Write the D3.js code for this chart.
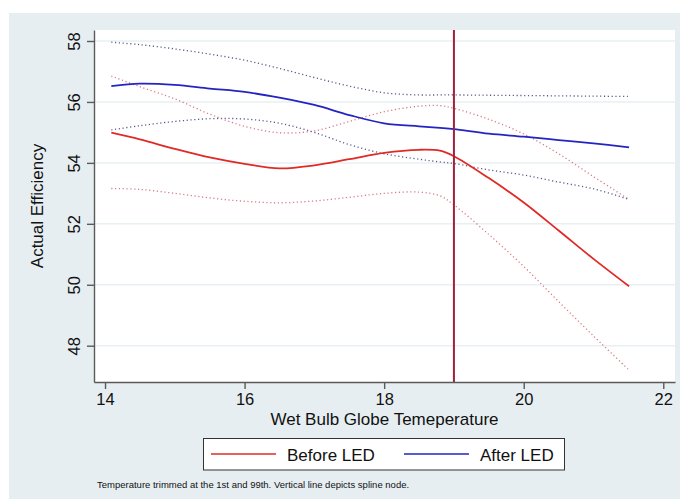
<!DOCTYPE html>
<html>

<head>
    <meta charset="utf-8">
    <script src="https://d3js.org/d3.v7.min.js"></script>
    <style>
        body { margin: 0; background: #fff; }
        text { font-family: "Liberation Sans", Arial, Helvetica, sans-serif; fill: #111; }
    </style>
</head>

<body>
    <script>
        // values
        let temps = [14.09, 14.5, 15, 15.5, 16, 16.5, 17, 17.5, 18, 18.5, 18.8, 19, 19.5, 20, 20.5, 21, 21.51];
        let beforeFit = [54.99, 54.77, 54.46, 54.18, 53.97, 53.82, 53.92, 54.12, 54.33, 54.43, 54.4, 54.22, 53.5, 52.7, 51.78, 50.85, 49.95];
        let beforeHi = [56.85, 56.5, 56.1, 55.6, 55.2, 54.99, 55.05, 55.36, 55.68, 55.86, 55.88, 55.79, 55.43, 54.95, 54.3, 53.55, 52.8];
        let beforeLo = [53.16, 53.13, 53.0, 52.85, 52.74, 52.69, 52.75, 52.87, 53.0, 53.04, 52.92, 52.62, 51.65, 50.6, 49.45, 48.32, 47.2];
        let afterFit = [56.52, 56.6, 56.56, 56.44, 56.33, 56.14, 55.9, 55.57, 55.3, 55.2, 55.15, 55.11, 54.96, 54.86, 54.75, 54.64, 54.51];
        let afterHi = [57.96, 57.88, 57.74, 57.57, 57.37, 57.1, 56.8, 56.52, 56.3, 56.23, 56.23, 56.23, 56.22, 56.21, 56.2, 56.19, 56.18];
        let afterLo = [55.08, 55.22, 55.36, 55.45, 55.44, 55.3, 55.0, 54.6, 54.3, 54.12, 54.03, 53.98, 53.77, 53.6, 53.37, 53.15, 52.8];
        let xTicks = [14, 16, 18, 20, 22];
        let yTicks = [48, 50, 52, 54, 56, 58];
        let splineNode = 19;
        let legendLabels = ["Before LED", "After LED"];
        let noteText = "Temperature trimmed at the 1st and 99th. Vertical line depicts spline node.";

        let width = 680;
        let height = 499;
        let plot = { left: 94, right: 675, top: 30, bottom: 382 };

        let red = "#e02a26";
        let blue = "#2424c2";

        let svg = d3.select("body").append("svg")
            .attr("width", width)
            .attr("height", height);

        // outer stata-ish background
        svg.append("rect")
            .attr("x", 9).attr("y", 13)
            .attr("width", width - 9).attr("height", height - 13)
            .attr("fill", "#e7eef1");

        svg.append("rect")
            .attr("x", plot.left).attr("y", plot.top)
            .attr("width", plot.right - plot.left).attr("height", plot.bottom - plot.top)
            .attr("fill", "#fff");

        let x = d3.scaleLinear().domain([13.842, 22.168]).range([plot.left, plot.right]);
        let y = d3.scaleLinear().domain([46.809, 58.361]).range([plot.bottom, plot.top]);

        // grid lines
        svg.append("g").selectAll("line")
            .data(yTicks)
            .join("line")
            .attr("x1", plot.left).attr("x2", plot.right)
            .attr("y1", d => y(d)).attr("y2", d => y(d))
            .attr("stroke", "#e9f0f3")
            .attr("stroke-width", 1.5);

        let line = d3.line()
            .x((d, i) => x(temps[i]))
            .y(d => y(d))
            .curve(d3.curveCatmullRom.alpha(0.5));

        let dotted = [
            { v: afterHi, c: "#3c3c78" },
            { v: afterLo, c: "#3c3c78" },
            { v: beforeHi, c: "#cf6470" },
            { v: beforeLo, c: "#cf6470" }
        ];
        svg.append("g").selectAll("path")
            .data(dotted)
            .join("path")
            .attr("d", d => line(d.v))
            .attr("fill", "none")
            .attr("stroke", d => d.c)
            .attr("stroke-width", 1.3)
            .attr("stroke-dasharray", "1.2,2.6")
            .attr("opacity", 0.85);

        svg.append("path")
            .attr("d", line(afterFit))
            .attr("fill", "none")
            .attr("stroke", blue)
            .attr("stroke-width", 1.8);

        svg.append("path")
            .attr("d", line(beforeFit))
            .attr("fill", "none")
            .attr("stroke", red)
            .attr("stroke-width", 1.8);

        // spline node
        svg.append("line")
            .attr("x1", x(splineNode)).attr("x2", x(splineNode))
            .attr("y1", plot.top).attr("y2", plot.bottom)
            .attr("stroke", "#a2203e")
            .attr("stroke-width", 2);

        // axes
        let yAxis = svg.append("g")
            .attr("transform", `translate(${plot.left},0)`)
            .call(d3.axisLeft(y).tickValues(yTicks).tickSize(7).tickSizeOuter(0));
        yAxis.selectAll("text")
            .attr("transform", "rotate(-90)")
            .attr("x", 0)
            .attr("y", -14)
            .attr("dy", 0)
            .style("text-anchor", "middle")
            .style("font-size", "16.5px");

        let xAxis = svg.append("g")
            .attr("transform", `translate(0,${plot.bottom})`)
            .call(d3.axisBottom(x).tickValues(xTicks).tickSize(7).tickSizeOuter(0));
        xAxis.selectAll("text")
            .attr("y", 23)
            .attr("dy", 0)
            .style("font-size", "16.5px");

        svg.selectAll(".domain, .tick line")
            .attr("stroke", "#5a5a5a")
            .attr("stroke-width", 1.4);
        svg.selectAll(".tick text").attr("fill", "#111");

        svg.append("text")
            .attr("x", (plot.left + plot.right) / 2)
            .attr("y", 425)
            .attr("text-anchor", "middle")
            .style("font-size", "17px")
            .text("Wet Bulb Globe Temeperature");

        svg.append("text")
            .attr("transform", `translate(43,${(plot.top + plot.bottom) / 2}) rotate(-90)`)
            .attr("text-anchor", "middle")
            .style("font-size", "17px")
            .text("Actual Efficiency");

        // legend
        let legend = svg.append("g");
        legend.append("rect")
            .attr("x", 203.5).attr("y", 438.5)
            .attr("width", 361).attr("height", 31.5)
            .attr("fill", "#fff")
            .attr("stroke", "#333")
            .attr("stroke-width", 1);

        let items = legend.selectAll("g")
            .data(legendLabels)
            .join("g")
            .attr("transform", (d, i) => `translate(${i == 0 ? 211 : 404},454)`);
        items.append("line")
            .attr("x1", 0).attr("x2", 65)
            .attr("stroke", (d, i) => i == 0 ? red : blue)
            .attr("stroke-width", 1.5);
        items.append("text")
            .attr("x", 76)
            .attr("y", 6.5)
            .style("font-size", "17px")
            .text(d => d);

        svg.append("text")
            .attr("x", 97)
            .attr("y", 487.5)
            .style("font-size", "9.5px")
            .text(noteText);
    </script>
</body>

</html>
